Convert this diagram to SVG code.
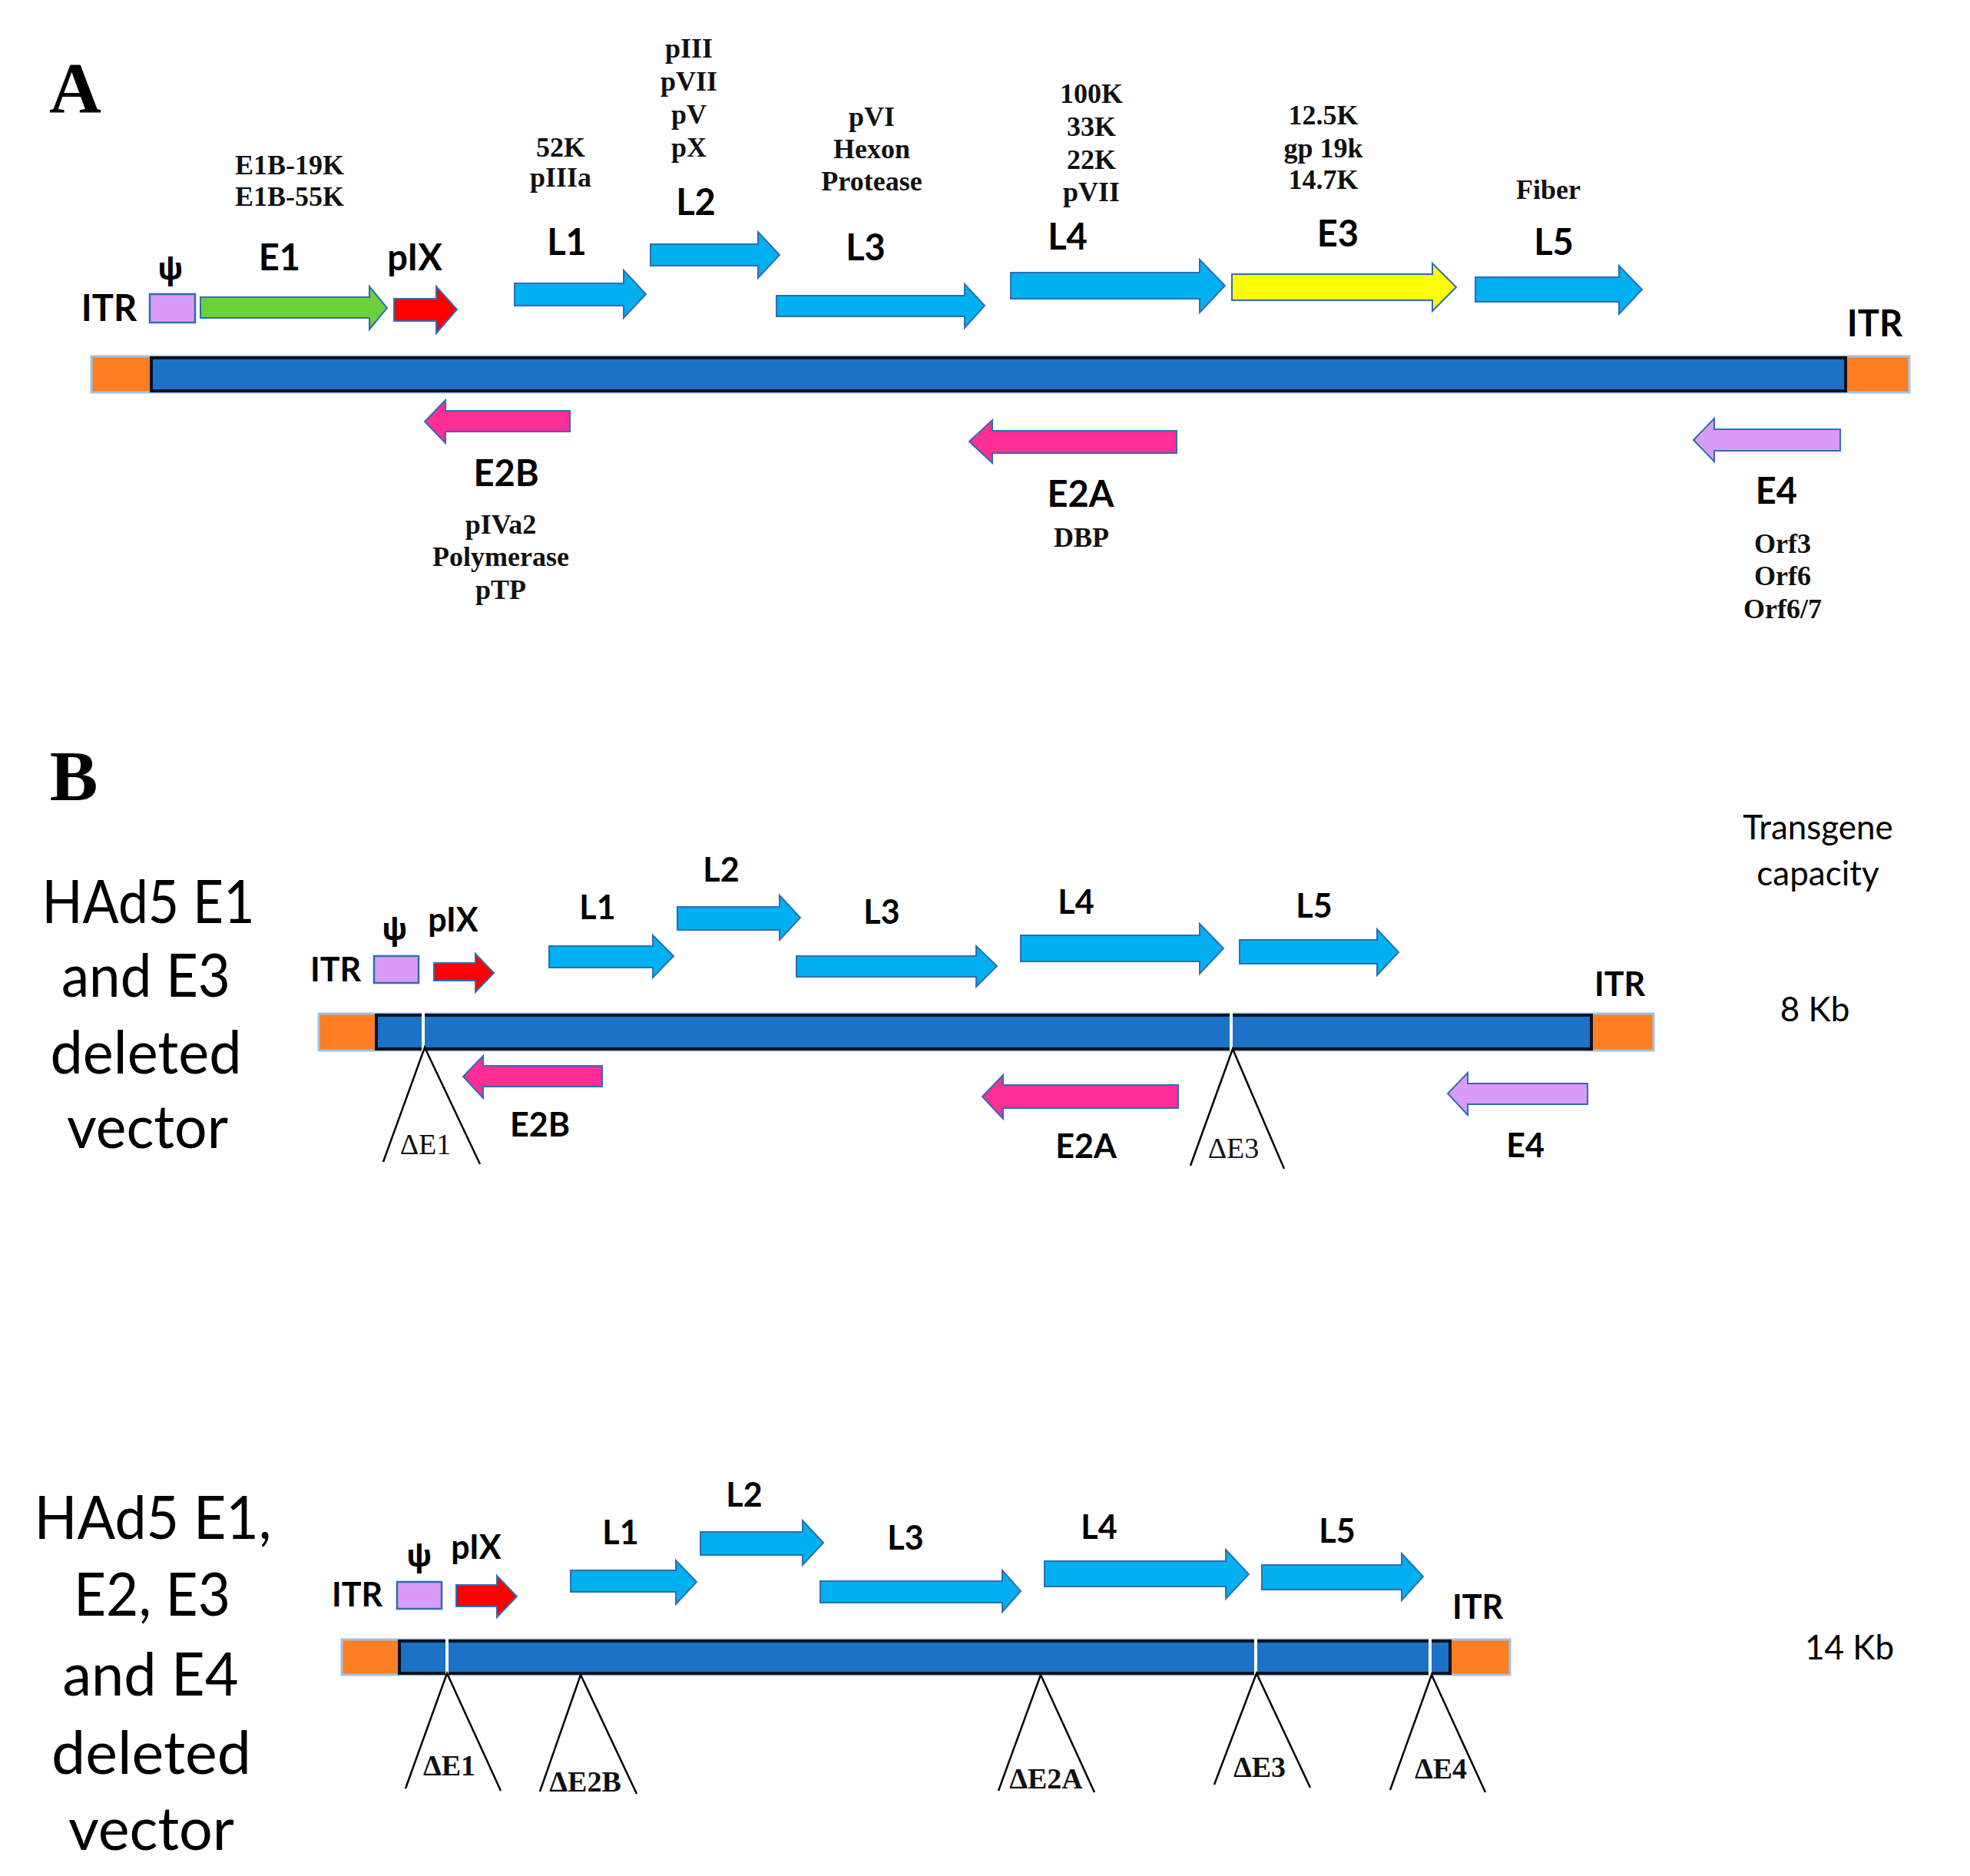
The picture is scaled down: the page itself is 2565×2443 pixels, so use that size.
<svg xmlns="http://www.w3.org/2000/svg" width="2565" height="2443" viewBox="0 0 2565 2443">
<style>
.lab{font-family:Lato,"Open Sans","Liberation Sans",sans-serif;font-weight:700;text-anchor:middle;fill:#000}
.la{font-size:47px}
.lb{font-size:43px}
.psi{font-family:"Noto Sans","DejaVu Sans",sans-serif;font-weight:700;font-size:40px;text-anchor:middle}
.ser{font-family:"Liberation Serif","Times New Roman",serif;font-weight:700;font-size:36px;text-anchor:middle;fill:#111}
.big{font-family:Lato,"Open Sans",sans-serif;font-size:77px;text-anchor:middle;fill:#000}
.reg{font-family:Lato,"Open Sans",sans-serif;font-size:44px;text-anchor:middle;fill:#000}
.del{font-family:"Liberation Serif","Times New Roman",serif;font-size:38px;text-anchor:middle;fill:#111}
.delb{font-weight:700}
.panel{font-family:"Liberation Serif","Times New Roman",serif;font-weight:700;font-size:94px;text-anchor:middle}
.arr{stroke:#2E6DB4;stroke-width:2;stroke-linejoin:miter}
.cy{fill:#00B0F0}
.gr{fill:#6CCF3C}
.rd{fill:#FF0000}
.yl{fill:#FFFF00}
.pk{fill:#FF2D96}
.lv{fill:#DA9CF8}
.box{fill:#DA9CF8;stroke:#2E6DB4;stroke-width:2.5}
.outer{fill:#FD7E23;stroke:#9DC3E6;stroke-width:3}
.inner{fill:#1B72C6;stroke:#0A1020;stroke-width:4}
.gap{stroke:#FFFFFF;stroke-width:4}
.tri{fill:none;stroke:#000;stroke-width:2.5}
</style>

<text class="panel" x="98" y="146">A</text>
<text class="panel" x="96" y="1042">B</text>

<!-- ===== Panel A ===== -->
<g id="A-genome">
<rect class="outer" x="119" y="464" width="2367" height="47"/>
<rect class="inner" x="197" y="466" width="2206" height="43"/>
</g>
<g id="A-ITR-left"><text class="lab la" x="142" y="418">ITR</text></g>
<g id="A-ITR-right"><text class="lab la" x="2441" y="438">ITR</text></g>
<g id="A-psi">
<rect class="box" x="195" y="383" width="59" height="37"/>
<text class="psi" x="222" y="364">ψ</text>
</g>
<g id="A-E1">
<polygon class="arr gr" points="261,387 481,387 481,373 504,401 481,429 481,414 261,414"/>
<text class="lab la" x="364" y="352">E1</text>
<text class="ser" x="377" y="227">E1B-19K</text>
<text class="ser" x="377" y="268">E1B-55K</text>
</g>
<g id="A-pIX">
<polygon class="arr rd" points="513,389 568,389 568,373 595,403 568,434 568,418 513,418"/>
<text class="lab la" x="540" y="352">pIX</text>
</g>
<g id="A-L1">
<polygon class="arr cy" points="670,369 812,369 812,352 841,383 812,414 812,398 670,398"/>
<text class="lab la" x="738" y="332">L1</text>
<text class="ser" x="730" y="204">52K</text>
<text class="ser" x="730" y="243">pIIIa</text>
</g>
<g id="A-L2">
<polygon class="arr cy" points="847,318 987,318 987,302 1015,332 987,362 987,346 847,346"/>
<text class="lab la" x="906" y="280">L2</text>
<text class="ser" x="897" y="75">pIII</text>
<text class="ser" x="897" y="118">pVII</text>
<text class="ser" x="897" y="161">pV</text>
<text class="ser" x="897" y="204">pX</text>
</g>
<g id="A-L3">
<polygon class="arr cy" points="1011,385 1256,385 1256,370 1282,398 1256,427 1256,412 1011,412"/>
<text class="lab la" x="1127" y="339">L3</text>
<text class="ser" x="1135" y="164">pVI</text>
<text class="ser" x="1135" y="206">Hexon</text>
<text class="ser" x="1135" y="248">Protease</text>
</g>
<g id="A-L4">
<polygon class="arr cy" points="1316,355 1562,355 1562,338 1595,372 1562,407 1562,389 1316,389"/>
<text class="lab la" x="1390" y="325">L4</text>
<text class="ser" x="1421" y="134">100K</text>
<text class="ser" x="1421" y="177">33K</text>
<text class="ser" x="1421" y="220">22K</text>
<text class="ser" x="1421" y="262">pVII</text>
</g>
<g id="A-E3">
<polygon class="arr yl" points="1604,357 1865,357 1865,343 1896,374 1865,405 1865,391 1604,391"/>
<text class="lab la" x="1742" y="321">E3</text>
<text class="ser" x="1723" y="162">12.5K</text>
<text class="ser" x="1723" y="205">gp 19k</text>
<text class="ser" x="1723" y="246">14.7K</text>
</g>
<g id="A-L5">
<polygon class="arr cy" points="1921,361 2108,361 2108,346 2138,377 2108,409 2108,393 1921,393"/>
<text class="lab la" x="2023" y="332">L5</text>
<text class="ser" x="2016" y="259">Fiber</text>
</g>
<g id="A-E2B">
<polygon class="arr pk" points="742,535 580,535 580,521 553,549 580,577 580,562 742,562"/>
<text class="lab la" x="659" y="633">E2B</text>
<text class="ser" x="652" y="695">pIVa2</text>
<text class="ser" x="652" y="737">Polymerase</text>
<text class="ser" x="652" y="780">pTP</text>
</g>
<g id="A-E2A">
<polygon class="arr pk" points="1532,561 1292,561 1292,547 1262,575 1292,603 1292,590 1532,590"/>
<text class="lab la" x="1407" y="660">E2A</text>
<text class="ser" x="1408" y="712">DBP</text>
</g>
<g id="A-E4">
<polygon class="arr lv" points="2396,559 2232,559 2232,545 2205,573 2232,601 2232,587 2396,587"/>
<text class="lab la" x="2313" y="656">E4</text>
<text class="ser" x="2321" y="720">Orf3</text>
<text class="ser" x="2321" y="762">Orf6</text>
<text class="ser" x="2321" y="805">Orf6/7</text>
</g>

<!-- ===== Panel B1 ===== -->
<g id="B1-title">
<text class="big" x="193" y="1202" textLength="277" lengthAdjust="spacingAndGlyphs">HAd5 E1</text>
<text class="big" x="190" y="1298" textLength="220" lengthAdjust="spacingAndGlyphs">and E3</text>
<text class="big" x="190" y="1398" textLength="249" lengthAdjust="spacingAndGlyphs">deleted</text>
<text class="big" x="192" y="1495" textLength="210" lengthAdjust="spacingAndGlyphs">vector</text>
</g>
<g id="B-capacity-head">
<text class="reg" x="2367" y="1093">Transgene</text>
<text class="reg" x="2367" y="1153">capacity</text>
</g>
<g id="B1-capacity"><text class="reg" x="2363" y="1330">8 Kb</text></g>
<g id="B1-genome">
<rect class="outer" x="415" y="1320" width="1738" height="48"/>
<rect class="inner" x="490" y="1322" width="1582" height="44"/>
<line class="gap" x1="551" y1="1318" x2="551" y2="1370"/>
<line class="gap" x1="1603" y1="1318" x2="1603" y2="1370"/>
</g>
<g id="B1-ITR-left"><text class="lab lb" x="437" y="1278">ITR</text></g>
<g id="B1-ITR-right"><text class="lab lb" x="2109" y="1297">ITR</text></g>
<g id="B1-psi">
<rect class="box" x="487" y="1245" width="58" height="35"/>
<text class="psi" x="514" y="1224">ψ</text>
</g>
<g id="B1-pIX">
<polygon class="arr rd" points="565,1254 619,1254 619,1242 643,1267 619,1292 619,1277 565,1277"/>
<text class="lab lb" x="590" y="1213">pIX</text>
</g>
<g id="B1-L1">
<polygon class="arr cy" points="715,1232 850,1232 850,1218 877,1245 850,1273 850,1260 715,1260"/>
<text class="lab lb" x="778" y="1197">L1</text>
</g>
<g id="B1-L2">
<polygon class="arr cy" points="882,1181 1015,1181 1015,1166 1042,1195 1015,1224 1015,1211 882,1211"/>
<text class="lab lb" x="939" y="1148">L2</text>
</g>
<g id="B1-L3">
<polygon class="arr cy" points="1037,1245 1271,1245 1271,1232 1298,1258 1271,1285 1271,1272 1037,1272"/>
<text class="lab lb" x="1148" y="1203">L3</text>
</g>
<g id="B1-L4">
<polygon class="arr cy" points="1329,1218 1562,1218 1562,1203 1593,1235 1562,1268 1562,1252 1329,1252"/>
<text class="lab lb" x="1401" y="1190">L4</text>
</g>
<g id="B1-L5">
<polygon class="arr cy" points="1614,1224 1793,1224 1793,1210 1821,1240 1793,1270 1793,1255 1614,1255"/>
<text class="lab lb" x="1711" y="1195">L5</text>
</g>
<g id="B1-E2B">
<polygon class="arr pk" points="784,1388 629,1388 629,1375 603,1402 629,1430 629,1415 784,1415"/>
<text class="lab lb" x="703" y="1480">E2B</text>
</g>
<g id="B1-E2A">
<polygon class="arr pk" points="1534,1413 1306,1413 1306,1400 1279,1428 1306,1457 1306,1443 1534,1443"/>
<text class="lab lb" x="1414" y="1508">E2A</text>
</g>
<g id="B1-E4">
<polygon class="arr lv" points="2067,1411 1911,1411 1911,1397 1885,1424 1911,1452 1911,1438 2067,1438"/>
<text class="lab lb" x="1986" y="1507">E4</text>
</g>
<g id="B1-dE1">
<polyline class="tri" points="499,1513 553,1364 625,1516"/>
<text class="del" x="554" y="1503">ΔE1</text>
</g>
<g id="B1-dE3">
<polyline class="tri" points="1550,1518 1605,1366 1672,1522"/>
<text class="del" x="1606" y="1508">ΔE3</text>
</g>

<!-- ===== Panel B2 ===== -->
<g id="B2-title">
<text class="big" x="199" y="2004" font-size="80" textLength="309" lengthAdjust="spacingAndGlyphs">HAd5 E1,</text>
<text class="big" x="198" y="2104" font-size="80" textLength="204" lengthAdjust="spacingAndGlyphs">E2, E3</text>
<text class="big" x="196" y="2208" font-size="80" textLength="229" lengthAdjust="spacingAndGlyphs">and E4</text>
<text class="big" x="197" y="2310" font-size="80" textLength="260" lengthAdjust="spacingAndGlyphs">deleted</text>
<text class="big" x="197" y="2409" font-size="80" textLength="216" lengthAdjust="spacingAndGlyphs">vector</text>
</g>
<g id="B2-capacity"><text class="reg" x="2408" y="2161">14 Kb</text></g>
<g id="B2-genome">
<rect class="outer" x="445" y="2135" width="1521" height="46"/>
<rect class="inner" x="520" y="2137" width="1368" height="42"/>
<line class="gap" x1="582" y1="2133" x2="582" y2="2183"/>
<line class="gap" x1="1635" y1="2133" x2="1635" y2="2183"/>
<line class="gap" x1="1862" y1="2133" x2="1862" y2="2183"/>
</g>
<g id="B2-ITR-left"><text class="lab lb" x="465" y="2092">ITR</text></g>
<g id="B2-ITR-right"><text class="lab lb" x="1924" y="2108">ITR</text></g>
<g id="B2-psi">
<rect class="box" x="517" y="2060" width="58" height="35"/>
<text class="psi" x="546" y="2040">ψ</text>
</g>
<g id="B2-pIX">
<polygon class="arr rd" points="594,2064 647,2064 647,2052 673,2079 647,2106 647,2092 594,2092"/>
<text class="lab lb" x="620" y="2030">pIX</text>
</g>
<g id="B2-L1">
<polygon class="arr cy" points="743,2045 880,2045 880,2032 907,2060 880,2089 880,2073 743,2073"/>
<text class="lab lb" x="808" y="2011">L1</text>
</g>
<g id="B2-L2">
<polygon class="arr cy" points="912,1995 1045,1995 1045,1980 1072,2009 1045,2038 1045,2025 912,2025"/>
<text class="lab lb" x="969" y="1962">L2</text>
</g>
<g id="B2-L3">
<polygon class="arr cy" points="1068,2059 1305,2059 1305,2045 1329,2072 1305,2099 1305,2087 1068,2087"/>
<text class="lab lb" x="1179" y="2018">L3</text>
</g>
<g id="B2-L4">
<polygon class="arr cy" points="1360,2033 1596,2033 1596,2018 1626,2050 1596,2082 1596,2066 1360,2066"/>
<text class="lab lb" x="1431" y="2004">L4</text>
</g>
<g id="B2-L5">
<polygon class="arr cy" points="1643,2038 1825,2038 1825,2023 1853,2053 1825,2084 1825,2070 1643,2070"/>
<text class="lab lb" x="1741" y="2009">L5</text>
</g>
<g id="B2-dE1">
<polyline class="tri" points="528,2329 582,2179 652,2332"/>
<text class="del delb" x="585" y="2312">ΔE1</text>
</g>
<g id="B2-dE2B">
<polyline class="tri" points="703,2333 756,2181 829,2336"/>
<text class="del delb" x="762" y="2333">ΔE2B</text>
</g>
<g id="B2-dE2A">
<polyline class="tri" points="1300,2332 1355,2181 1425,2334"/>
<text class="del delb" x="1362" y="2329">ΔE2A</text>
</g>
<g id="B2-dE3">
<polyline class="tri" points="1581,2324 1636,2179 1706,2328"/>
<text class="del delb" x="1640" y="2314">ΔE3</text>
</g>
<g id="B2-dE4">
<polyline class="tri" points="1810,2331 1864,2181 1934,2334"/>
<text class="del delb" x="1876" y="2316">ΔE4</text>
</g>
<g id="connectors"></g>
</svg>
